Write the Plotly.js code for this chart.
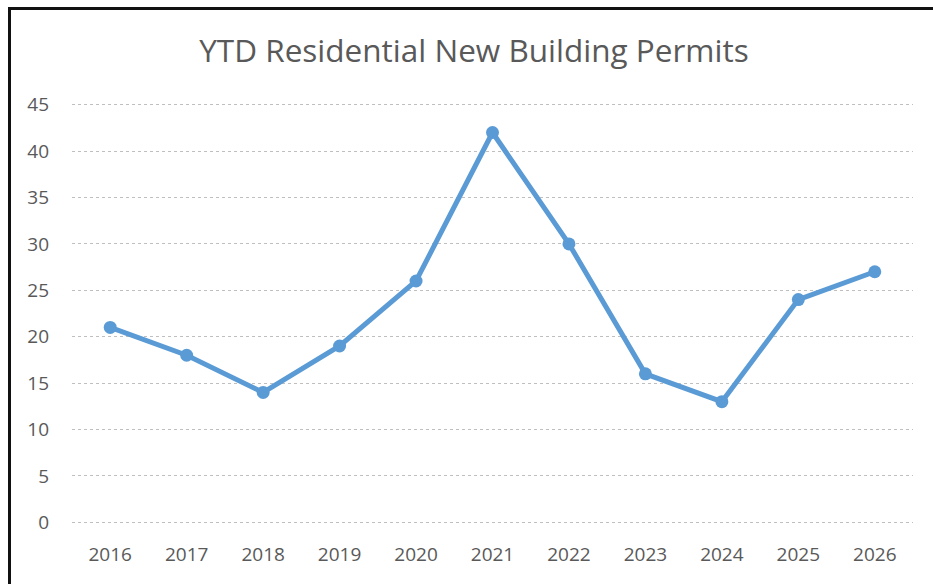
<!DOCTYPE html>
<html>
<head>
<meta charset="utf-8">
<script src="https://cdn.plot.ly/plotly-3.0.1.min.js"></script>
<style>
html,body{margin:0;padding:0;background:#fff;}
#wrap{position:relative;width:933px;height:584px;}
#chart{position:absolute;left:0;top:0;width:933px;height:584px;}
#frame{position:absolute;left:8px;top:7px;width:940px;height:600px;border-left:3px solid #111;border-top:3px solid #111;pointer-events:none;}
</style>
</head>
<body>
<div id="wrap"><div id="chart"></div><div id="frame"></div></div>
<script>
const years = ['2016','2017','2018','2019','2020','2021','2022','2023','2024','2025','2026'];
const permits = [21, 18, 14, 19, 26, 42, 30, 16, 13, 24, 27];
const yTicks = [0, 5, 10, 15, 20, 25, 30, 35, 40, 45];

const trace = {
  x: years,
  y: permits,
  type: 'scatter',
  mode: 'lines+markers',
  line: {color: '#5b9bd5', width: 5},
  marker: {color: '#5b9bd5', size: 13},
  hoverinfo: 'x+y'
};

const layout = {
  width: 933,
  height: 584,
  margin: {l: 72, r: 20, t: 100, b: 57},
  paper_bgcolor: '#ffffff',
  plot_bgcolor: '#ffffff',
  showlegend: false,
  title: {
    text: 'YTD Residential New Building Permits',
    font: {family: 'Open Sans, sans-serif', size: 31.5, color: '#595959'},
    x: 0.508, xanchor: 'center',
    y: 0.913, yanchor: 'middle'
  },
  xaxis: {
    type: 'category',
    range: [-0.5, 10.5],
    showgrid: false,
    zeroline: false,
    showline: false,
    ticks: '',
    ticklabelstandoff: 14,
    tickfont: {family: 'Open Sans, sans-serif', size: 19, color: '#595959'}
  },
  yaxis: {
    range: [-0.5, 45.5],
    tickvals: yTicks,
    ticktext: yTicks.map(String),
    showgrid: true,
    gridcolor: '#bfbfbf',
    gridwidth: 1,
    griddash: 'dot',
    zeroline: false,
    showline: false,
    ticks: '',
    ticklabelstandoff: 22,
    tickfont: {family: 'Open Sans, sans-serif', size: 19, color: '#595959'}
  }
};

Plotly.newPlot('chart', [trace], layout, {displayModeBar: false, staticPlot: true});
</script>
</body>
</html>
